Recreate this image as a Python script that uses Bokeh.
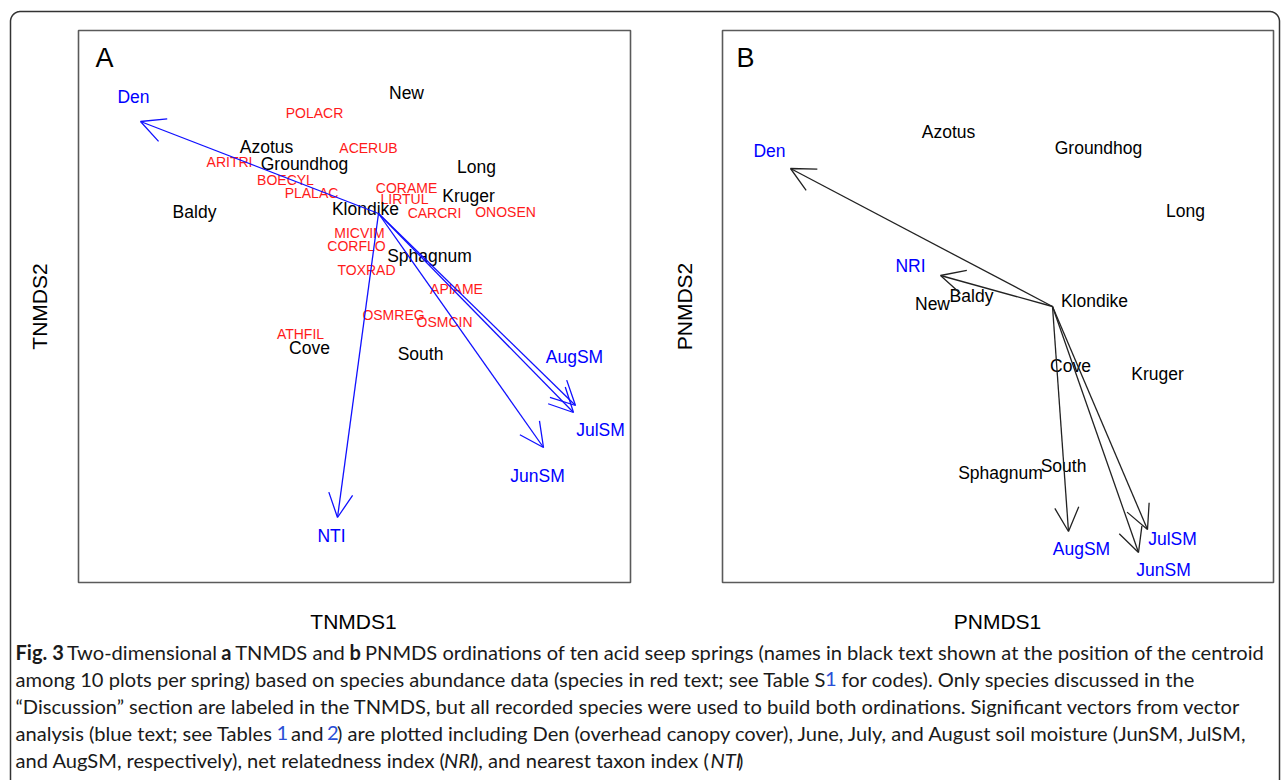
import numpy as np
from bokeh.plotting import figure
from bokeh.models import Range1d, ColumnDataSource, Arrow, OpenHead
from bokeh.core.properties import value
from bokeh.embed import file_html
from bokeh.resources import INLINE

# ---------------- Panel A: TNMDS ordination scores ----------------
a_site_names = ["New", "Azotus", "Groundhog", "Long", "Kruger", "Baldy",
                "Klondike", "Sphagnum", "Cove", "South"]
a_site_x = [0.112, -0.448, -0.296, 0.392, 0.360, -0.736, -0.052, 0.204, -0.276, 0.168]
a_site_y = [0.484, 0.268, 0.200, 0.188, 0.072, 0.008, 0.020, -0.168, -0.536, -0.560]

a_species = ["POLACR", "ACERUB", "ARITRI", "BOECYL", "PLALAC", "CORAME", "LIRTUL",
             "CARCRI", "ONOSEN", "MICVIM", "CORFLO", "TOXRAD", "APIAME", "OSMREG",
             "OSMCIN", "ATHFIL"]
a_species_x = [-0.256, -0.040, -0.596, -0.372, -0.268, 0.112, 0.104, 0.224, 0.508,
               -0.076, -0.088, -0.048, 0.312, 0.060, 0.264, -0.312]
a_species_y = [0.404, 0.264, 0.208, 0.136, 0.084, 0.104, 0.060, 0.004, 0.008,
               -0.076, -0.128, -0.224, -0.300, -0.404, -0.432, -0.480]

a_vectors = ["Den", "NTI", "JunSM", "JulSM", "AugSM"]
a_vec_x = [-0.952, -0.164, 0.660, 0.780, 0.788]
a_vec_y = [0.368, -1.216, -0.936, -0.796, -0.768]
a_vec_label_x = [-0.980, -0.188, 0.636, 0.888, 0.784]
a_vec_label_y = [0.468, -1.288, -1.048, -0.864, -0.572]

# ---------------- Panel B: PNMDS ordination scores ----------------
b_site_names = ["Azotus", "Groundhog", "Long", "New", "Baldy", "Klondike",
                "Cove", "Kruger", "Sphagnum", "South"]
b_site_x = [-0.416, 0.184, 0.532, -0.480, -0.324, 0.168, 0.072, 0.420, -0.208, 0.044]
b_site_y = [0.700, 0.636, 0.384, 0.012, 0.044, 0.024, -0.236, -0.268, -0.664, -0.636]

b_vectors = ["Den", "NRI", "AugSM", "JunSM", "JulSM"]
b_vec_x = [-1.048, -0.448, 0.064, 0.344, 0.380]
b_vec_y = [0.552, 0.124, -0.900, -0.984, -0.892]
b_vec_label_x = [-1.132, -0.568, 0.116, 0.444, 0.480]
b_vec_label_y = [0.624, 0.164, -0.968, -1.052, -0.928]

axis_labels = ["TNMDS1", "TNMDS2", "PNMDS1", "PNMDS2"]
panel_letters = ["A", "B"]

# ---------------- Caption ----------------
cap_text = [
    "Fig. 3", "Two-dimensional", "a", "TNMDS and", "b",
    "PNMDS ordinations of ten acid seep springs (names in black text shown at the position of the centroid",
    "among 10 plots per spring) based on species abundance data (species in red text; see Table S",
    "1", "for codes). Only species discussed in the",
    "\u201cDiscussion\u201d section are labeled in the TNMDS, but all recorded species were used to build both ordinations. Significant vectors from vector",
    "analysis (blue text; see Tables", "1", "and", "2",
    ") are plotted including Den (overhead canopy cover), June, July, and August soil moisture (JunSM, JulSM,",
    "and AugSM, respectively), net relatedness index (", "NRI", "), and nearest taxon index (", "NTI", ")",
]
cap_line = [0, 0, 0, 0, 0, 0, 1, 1, 1, 2, 3, 3, 3, 3, 3, 4, 4, 4, 4, 4]
cap_style = ["bold", "normal", "bold", "normal", "bold", "normal",
             "normal", "normal", "normal", "normal",
             "normal", "normal", "normal", "normal", "normal",
             "normal", "italic", "normal", "italic", "normal"]
cap_link = [False, False, False, False, False, False,
            False, True, False, False,
            False, True, False, True, False,
            False, False, False, False, False]

# ---------------- layout (reference pixel positions) ----------------
W, H = 1281, 780
SCALE = 250.0               # px per ordination unit
A_ORIGIN = (378, 213)
B_ORIGIN = (1052, 306)
A_BOX = (78, 30, 630, 582)
B_BOX = (722, 30, 1273, 582)
cap_x = [15, 66.5, 220.7, 234.7, 349, 364.5,
         15, 824.5, 841,
         15,
         15, 276, 290.5, 326.5, 336.5,
         15, 443.5, 472.5, 710, 737.5]
cap_base = [651, 678, 705, 732, 759]

p = figure(width=W, height=H, output_backend="svg", toolbar_location=None,
           x_range=Range1d(0, W), y_range=Range1d(-H, 0),
           x_axis_location=None, y_axis_location=None, min_border=0,
           outline_line_color=None, background_fill_color="white",
           border_fill_color="white")
p.grid.visible = False


def panel_ranges(origin):
    ox, oy = origin
    xr = Range1d((0 - ox) / SCALE, (W - ox) / SCALE)
    yr = Range1d((oy - H) / SCALE, (oy - 0) / SCALE)
    return xr, yr


axr, ayr = panel_ranges(A_ORIGIN)
bxr, byr = panel_ranges(B_ORIGIN)
p.extra_x_ranges = {"ax": axr, "bx": bxr}
p.extra_y_ranges = {"ay": ayr, "by": byr}

# outer rounded frame
L, T, R, r = 10, 11, 1279, 10
t1 = np.linspace(np.pi, np.pi / 2, 20)
t2 = np.linspace(np.pi / 2, 0, 20)
fx = np.concatenate([[L], L + r + r * np.cos(t1), R - r + r * np.cos(t2), [R]])
fy = np.concatenate([[800], T + r - r * np.sin(t1), T + r - r * np.sin(t2), [800]])
p.line(fx, -fy, line_color="#333333", line_width=1.5)

# panel boxes
for bx in (A_BOX, B_BOX):
    p.quad(left=bx[0], right=bx[2], top=-bx[1], bottom=-bx[3], fill_color=None,
           line_color="#5a5a5a", line_width=1.6)

FONT = value("Liberation Sans")

# panel letters
p.text(x=[104, 745], y=[-57, -57], text=panel_letters, text_font=FONT,
       text_font_size="27px", text_color="black", text_align="center",
       text_baseline="middle")

# axis labels
p.text(x=[353, 997], y=[-621, -621], text=[axis_labels[0], axis_labels[2]],
       text_font=FONT, text_font_size="21px", text_color="black",
       text_align="center", text_baseline="middle")
p.text(x=[39, 684], y=[-306, -306], text=[axis_labels[1], axis_labels[3]],
       angle=np.pi / 2, text_font=FONT, text_font_size="21px", text_color="black",
       text_align="center", text_baseline="middle")

# ---- panel A ----
p.text(x=a_species_x, y=a_species_y, text=a_species, x_range_name="ax",
       y_range_name="ay", text_font=FONT, text_font_size="14px",
       text_color="#ff1a1a", text_align="center", text_baseline="middle")
p.text(x=a_site_x, y=a_site_y, text=a_site_names, x_range_name="ax",
       y_range_name="ay", text_font=FONT, text_font_size="17.5px",
       text_color="black", text_align="center", text_baseline="middle")
p.text(x=a_vec_label_x, y=a_vec_label_y, text=a_vectors, x_range_name="ax",
       y_range_name="ay", text_font=FONT, text_font_size="17.5px",
       text_color="#0000ff", text_align="center", text_baseline="middle")
a_src = ColumnDataSource(dict(x0=[0.0] * len(a_vectors), y0=[0.0] * len(a_vectors),
                              x1=a_vec_x, y1=a_vec_y))
p.add_layout(Arrow(source=a_src, x_start="x0", y_start="y0", x_end="x1", y_end="y1",
                   x_range_name="ax", y_range_name="ay", line_color="#1010ff",
                   line_width=1.3,
                   end=OpenHead(line_color="#1010ff", line_width=1.3, size=24)))

# ---- panel B ----
p.text(x=b_site_x, y=b_site_y, text=b_site_names, x_range_name="bx",
       y_range_name="by", text_font=FONT, text_font_size="17.5px",
       text_color="black", text_align="center", text_baseline="middle")
p.text(x=b_vec_label_x, y=b_vec_label_y, text=b_vectors, x_range_name="bx",
       y_range_name="by", text_font=FONT, text_font_size="17.5px",
       text_color="#0000ff", text_align="center", text_baseline="middle")
b_src = ColumnDataSource(dict(x0=[0.0] * len(b_vectors), y0=[0.0] * len(b_vectors),
                              x1=b_vec_x, y1=b_vec_y))
p.add_layout(Arrow(source=b_src, x_start="x0", y_start="y0", x_end="x1", y_end="y1",
                   x_range_name="bx", y_range_name="by", line_color="#222222",
                   line_width=1.3,
                   end=OpenHead(line_color="#222222", line_width=1.3, size=24)))

# ---- caption ----
CAP_FONT = value("Lato")
for style in ("normal", "bold", "italic"):
    for link in (False, True):
        idx = [i for i in range(len(cap_text)) if cap_style[i] == style and cap_link[i] == link]
        if not idx:
            continue
        p.text(x=[cap_x[i] for i in idx], y=[-cap_base[cap_line[i]] for i in idx],
               text=[cap_text[i] for i in idx], text_font=CAP_FONT,
               text_font_size="20.1px", text_font_style=style,
               text_color="#2a4fd6" if link else "#1a1a1a",
               text_align="left", text_baseline="alphabetic")

open("out.html", "w").write(file_html(p, INLINE))
